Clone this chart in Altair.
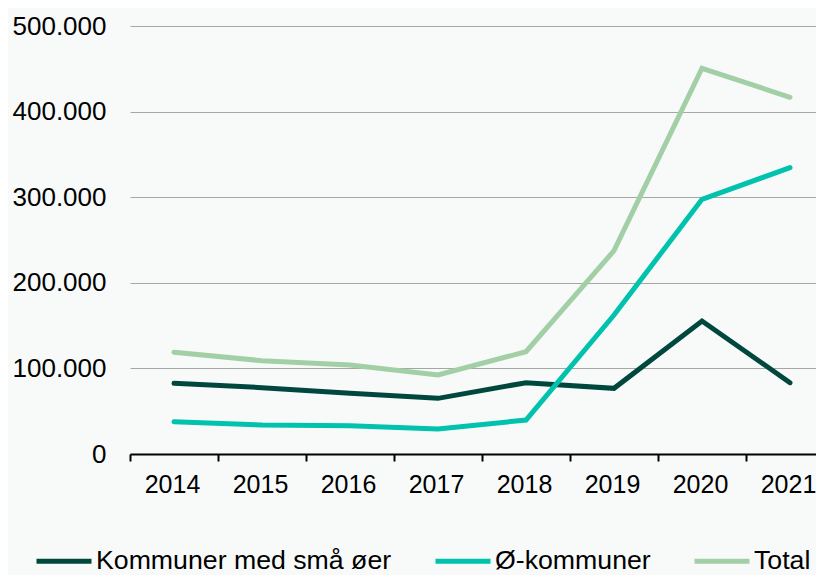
import altair as alt
import pandas as pd

years = [2014, 2015, 2016, 2017, 2018, 2019, 2020, 2021]
series_names = ["Kommuner med små øer", "Ø-kommuner", "Total"]
small_islands = [82600, 77500, 70900, 65000, 83300, 76700, 155400, 83300]
island_munis = [37700, 33900, 33000, 29200, 39700, 162400, 297500, 334500]
total = [118800, 109000, 104000, 92300, 119500, 237500, 450600, 416700]
colors = ["#00483e", "#00c2ad", "#a3cfa6"]
y_ticks = [0, 100000, 200000, 300000, 400000, 500000]

PLOT_W = 686
STEP = 88.0
x_domain = [years[0] - 0.5, years[0] - 0.5 + PLOT_W / STEP]

rows = []
for name, vals in zip(series_names, [small_islands, island_munis, total]):
    for yr, v in zip(years, vals):
        rows.append({"year": yr, "series": name, "value": v})
df = pd.DataFrame(rows)

chart = alt.Chart(df).mark_line(strokeWidth=5, strokeCap="round").encode(
    x=alt.X(
        "year:Q",
        scale=alt.Scale(domain=x_domain, nice=False, zero=False),
        axis=alt.Axis(
            title=None, values=years, format="d",
            tickOffset=-STEP / 2, labelOffset=STEP / 2 - 2,
            domainColor="black", domainWidth=2,
            tickColor="black", tickWidth=2, tickSize=7, labelFontSize=25,
            labelPadding=11, labelColor="black", labelAngle=0, grid=False,
            labelOverlap=False, labelFlush=False,
        ),
    ),
    y=alt.Y(
        "value:Q",
        scale=alt.Scale(domain=[0, 500000], nice=False),
        axis=alt.Axis(
            title=None, values=y_ticks, domain=False, ticks=False,
            labelExpr="datum.value == 0 ? '0' : format(datum.value / 1000, 'd') + '.000'",
            labelPadding=24, gridColor="#a6a6a6", gridWidth=1,
            labelFontSize=26, labelColor="black",
        ),
    ),
    color=alt.Color(
        "series:N",
        scale=alt.Scale(domain=series_names, range=colors),
        legend=alt.Legend(
            title=None, orient="none", legendX=-96, legendY=505,
            direction="horizontal", symbolType="stroke", symbolSize=3025,
            symbolStrokeWidth=5, labelFontSize=26.7, labelColor="black",
            columnPadding=33, labelOffset=2, padding=0, labelLimit=1000,
        ),
    ),
).properties(
    width=PLOT_W,
    height=428,
    autosize=alt.AutoSizeParams(type="none"),
    padding={"left": 122, "top": 18, "right": 0, "bottom": 121},
    background="#f8faf9",
).configure(
    font="Liberation Sans",
).configure_view(stroke=None)

chart.save("out.html", embed_options={"renderer": "svg", "actions": False})
